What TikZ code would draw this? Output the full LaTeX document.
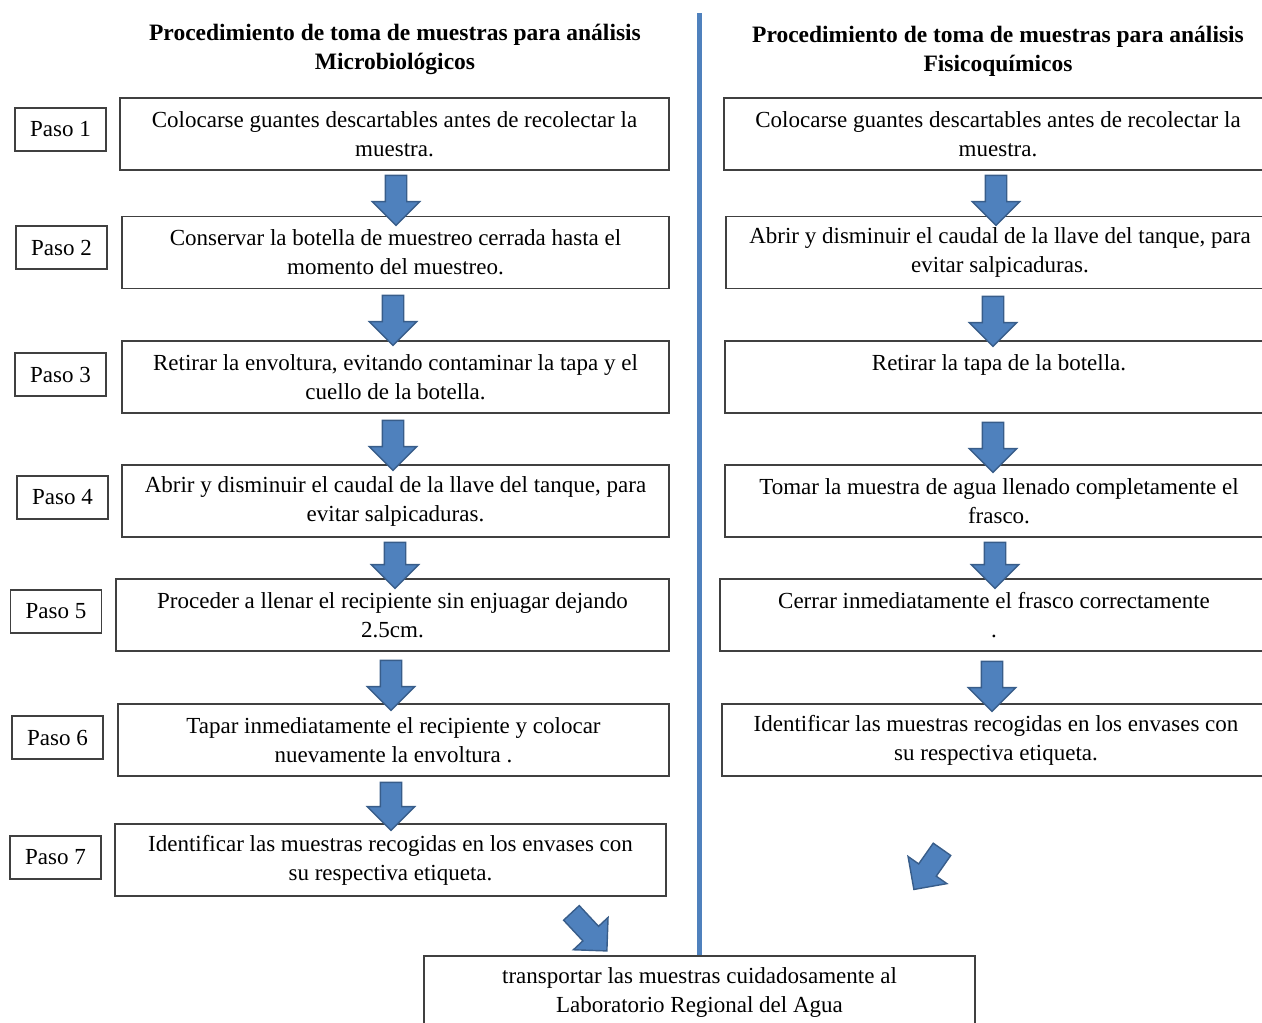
\documentclass[tikz,border=0pt]{standalone}
\usepackage{fontspec}
\setmainfont{Liberation Serif}
\usetikzlibrary{shapes.arrows}

\definecolor{boxline}{HTML}{404040}
\definecolor{arrowfill}{HTML}{4F81BD}
\definecolor{arrowline}{HTML}{385D8A}

\begin{document}
\begin{tikzpicture}[x=1pt, y=-1pt,
  stepbox/.style={draw=boxline, line width=1.3pt, align=center, inner sep=0pt,
    minimum height=72pt, font=\fontsize{23}{29}\selectfont},
  pasobox/.style={draw=boxline, line width=1.3pt, minimum width=91pt, minimum height=43pt,
    inner sep=0pt, font=\fontsize{23}{29}\selectfont},
  titletext/.style={align=center, font=\fontsize{23.5}{29}\selectfont\bfseries},
  blockarrow/.style={single arrow, draw=arrowline, fill=arrowfill, line width=1.4pt,
    minimum width=46pt, minimum height=50pt, inner sep=10pt, single arrow head extend=13pt}]
  \useasboundingbox (0,0) rectangle (1262,1023);
  \clip (0,0) rectangle (1262,1023);

  % titulos y linea divisoria
  \node[titletext] (tm) at (395,49.5) {Procedimiento de toma de muestras para análisis\\Microbiológicos};
  \node[titletext] (tf) at (998,51.5) {Procedimiento de toma de muestras para análisis\\Fisicoquímicos};
  \coordinate (lt) at (699,13);
  \coordinate (lb) at (699,955);
  \draw[arrowfill, line width=5pt] (lt) -- (lb);

  % pasos
  \node[pasobox] (p1) at (60.5,129.5) {Paso 1};
  \node[pasobox] (p2) at (61.5,247.5) {Paso 2};
  \node[pasobox] (p3) at (60.5,374.5) {Paso 3};
  \node[pasobox] (p4) at (62.5,497.5) {Paso 4};
  \node[pasobox] (p5) at (56,611.5)   {Paso 5};
  \node[pasobox] (p6) at (57.5,737.5) {Paso 6};
  \node[pasobox] (p7) at (55.5,857.5) {Paso 7};

  % columna microbiologicos
  \node[stepbox, minimum width=549pt] (m1) at (394.5,134) {Colocarse guantes descartables antes de recolectar la\\muestra.};
  \node[stepbox, minimum width=547pt] (m2) at (395.5,252.5) {Conservar la botella de muestreo cerrada hasta el\\momento del muestreo.};
  \node[stepbox, minimum width=547pt] (m3) at (395.5,377) {Retirar la envoltura, evitando contaminar la tapa y el\\cuello de la botella.};
  \node[stepbox, minimum width=547pt] (m4) at (395.5,501) {Abrir y disminuir el caudal de la llave del tanque, para\\evitar salpicaduras.};
  \node[stepbox, minimum width=553pt] (m5) at (392.5,615) {Proceder a llenar el recipiente sin enjuagar dejando\\2.5cm.};
  \node[stepbox, minimum width=551pt] (m6) at (393.5,740) {Tapar inmediatamente el recipiente y colocar\\nuevamente la envoltura .};
  \node[stepbox, minimum width=551pt] (m7) at (390.5,860) {Identificar las muestras recogidas en los envases con\\su respectiva etiqueta.};

  % columna fisicoquimicos
  \node[stepbox, minimum width=548pt] (f1) at (998,134) {Colocarse guantes descartables antes de recolectar la\\muestra.};
  \node[stepbox, minimum width=548pt] (f2) at (1000,252.5) {Abrir y disminuir el caudal de la llave del tanque, para\\evitar salpicaduras.};
  \node[stepbox, minimum width=548pt] (f3) at (999,377) {Retirar la tapa de la botella.\\\phantom{cuello de la botella.}};
  \node[stepbox, minimum width=548pt] (f4) at (999,501) {Tomar la muestra de agua llenado completamente el\\frasco.};
  \node[stepbox, minimum width=548pt] (f5) at (994,615) {Cerrar inmediatamente el frasco correctamente\\.};
  \node[stepbox, minimum width=548pt] (f6) at (996,740) {Identificar las muestras recogidas en los envases con\\su respectiva etiqueta.};

  % destino final
  \node[stepbox, minimum width=551pt] (lab) at (699.5,992) {transportar las muestras cuidadosamente al\\Laboratorio Regional del Agua};

  % flechas
  \node[blockarrow, rotate=-90] (am1) at (396,195) {};
  \node[blockarrow, rotate=-90] (am2) at (393,315) {};
  \node[blockarrow, rotate=-90] (am3) at (393,440) {};
  \node[blockarrow, rotate=-90, minimum height=46pt] (am4) at (395,560) {};
  \node[blockarrow, rotate=-90] (am5) at (391,680) {};
  \node[blockarrow, rotate=-90, minimum height=48pt] (am6) at (391,801) {};
  \node[blockarrow, rotate=-47, minimum height=52pt] (am7) at (585.5,928) {};

  \node[blockarrow, rotate=-90] (af1) at (996,195) {};
  \node[blockarrow, rotate=-90] (af2) at (993,316) {};
  \node[blockarrow, rotate=-90] (af3) at (993,442) {};
  \node[blockarrow, rotate=-90, minimum height=46pt] (af4) at (995,560) {};
  \node[blockarrow, rotate=-90] (af5) at (992,681) {};
  \node[blockarrow, rotate=-125, minimum height=49pt] (af6) at (931,865) {};
\end{tikzpicture}
\end{document}
